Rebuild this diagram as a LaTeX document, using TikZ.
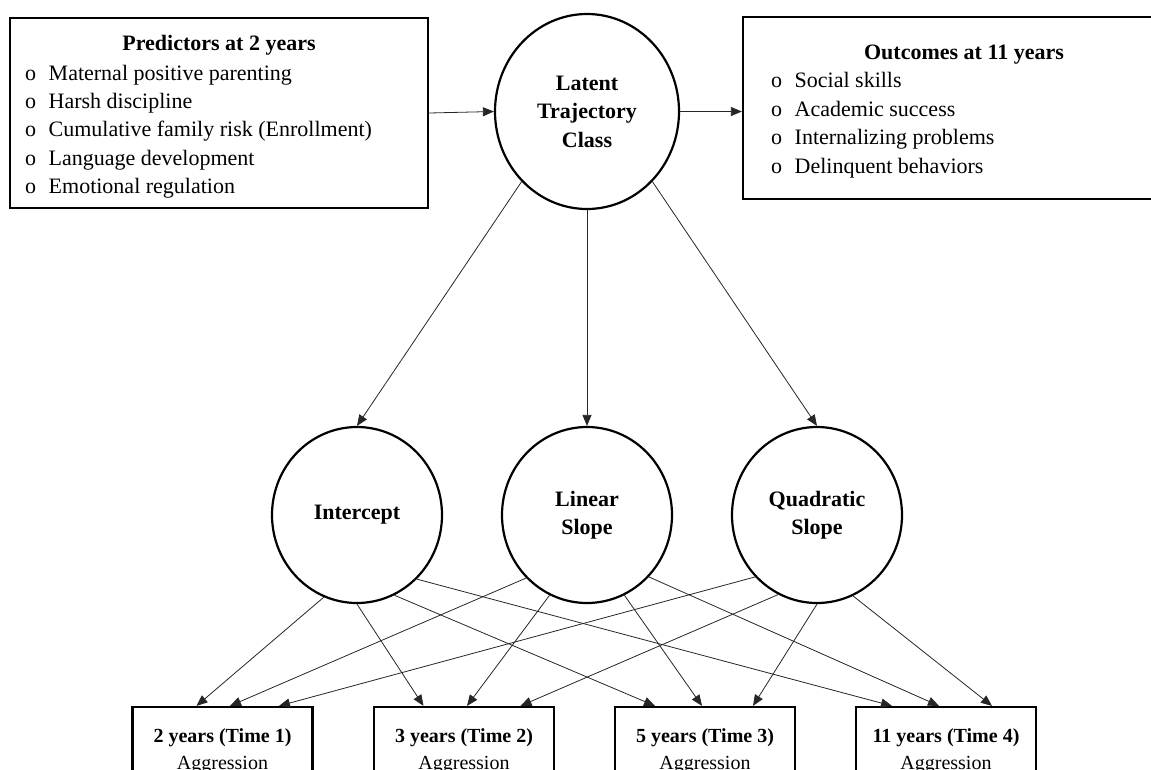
\documentclass[tikz,border=0pt]{standalone}
\usepackage{fontspec}
\setmainfont{Liberation Serif}
\usetikzlibrary{shapes.geometric,arrows.meta}

\newcommand{\bul}{\makebox[23.5pt][l]{o}}

\begin{document}
\begin{tikzpicture}[x=1pt,y=-1pt,
   >={Triangle[length=11pt,width=9pt]},
   box/.style={rectangle,draw,line width=2.2pt,inner sep=0pt},
   latent/.style={ellipse,draw,line width=2.2pt,inner sep=0pt,align=center,
    font=\fontsize{22}{28.5}\selectfont\bfseries},
   head/.style={anchor=base,inner sep=0pt,font=\fontsize{22}{28.5}\selectfont\bfseries},
   item/.style={anchor=base west,inner sep=0pt,font=\fontsize{22}{28.5}\selectfont},
   wave/.style={rectangle,draw,line width=2.2pt,minimum width=180pt,
    minimum height=88pt,inner sep=0pt,align=center,font=\fontsize{20}{27}\selectfont},
   link/.style={->,line width=0.8pt,draw=black!85}
    ]
  \useasboundingbox (0,0) rectangle (1151,769);

  % -- predictors
  \node[box,minimum width=418pt,minimum height=190pt] at (219,113) (pred) {};
  \node[head] at (219,50) (predhead) {Predictors at 2 years};
  \node[item] at (25,80) (p1) {\bul Maternal positive parenting};
  \node[item] at (25,108.3) (p2) {\bul Harsh discipline};
  \node[item] at (25,136.6) (p3) {\bul Cumulative family risk (Enrollment)};
  \node[item] at (25,165) (p4) {\bul Language development};
  \node[item] at (25,193) (p5) {\bul Emotional regulation};

  % -- outcomes
  \node[box,minimum width=442pt,minimum height=182pt] at (964,108) (out) {};
  \node[head] at (964,59) (outhead) {Outcomes at 11 years};
  \node[item] at (771,87) (o1) {\bul Social skills};
  \node[item] at (771,116) (o2) {\bul Academic success};
  \node[item] at (771,144) (o3) {\bul Internalizing problems};
  \node[item] at (771,173) (o4) {\bul Delinquent behaviors};

  % -- latent variables
  \node[latent,minimum width=184pt,minimum height=195pt] at (587,111.5) (lat)
    {Latent\\Trajectory\\Class};
  \node[latent,minimum width=170pt,minimum height=176pt] at (357,515) (int) {Intercept};
  \node[latent,minimum width=170pt,minimum height=176pt] at (587,515) (lin) {Linear\\Slope};
  \node[latent,minimum width=170pt,minimum height=176pt] at (817,515) (quad) {Quadratic\\Slope};

  % -- bottom row
  \node[wave] at (222.5,751) (t1) {\textbf{2 years (Time 1)}\\Aggression};
  \node[wave] at (464,751) (t2) {\textbf{3 years (Time 2)}\\Aggression};
  \node[wave] at (705,751) (t3) {\textbf{5 years (Time 3)}\\Aggression};
  \node[wave] at (946,751) (t4) {\textbf{11 years (Time 4)}\\Aggression};

  % -- arrows
  \draw[link] (pred.east) -- (lat.west);
  \draw[link] (lat.east) -- (lat.east -| out.west);
  \draw[link] (lat.-133) -- (int.north);
  \draw[link] (lat.south) -- (lin.north);
  \draw[link] (lat.-47) -- (quad.north);

  \draw[link] (int.-112) -- ([xshift=-26pt]t1.north);
  \draw[link] (int.-90) -- ([xshift=-40.5pt]t2.north);
  \draw[link] (int.-65) -- ([xshift=-50pt]t3.north);
  \draw[link] (int.-47) -- ([xshift=-54pt]t4.north);
  \draw[link] (lin.-134) -- ([xshift=7.5pt]t1.north);
  \draw[link] (lin.-115) -- ([xshift=3pt]t2.north);
  \draw[link] (lin.-65) -- ([xshift=-3pt]t3.north);
  \draw[link] (lin.-45) -- ([xshift=-7pt]t4.north);
  \draw[link] (quad.-135) -- ([xshift=56.5pt]t1.north);
  \draw[link] (quad.-116) -- ([xshift=56.5pt]t2.north);
  \draw[link] (quad.-90) -- ([xshift=48pt]t3.north);
  \draw[link] (quad.-66) -- ([xshift=46pt]t4.north);
\end{tikzpicture}
\end{document}
